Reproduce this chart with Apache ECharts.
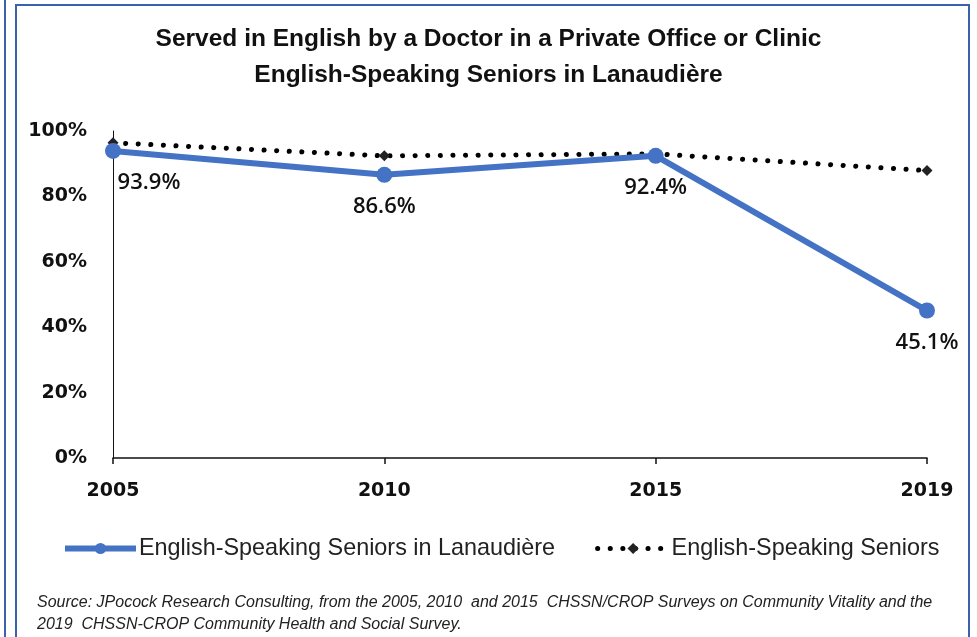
<!DOCTYPE html>
<html>
<head>
<meta charset="utf-8">
<script src="https://cdn.jsdelivr.net/npm/echarts@6/dist/echarts.min.js"></script>
<style>
  html, body { margin: 0; padding: 0; background: #fff; }
  #chart { width: 977px; height: 637px; }
</style>
</head>
<body>
<div id="chart"></div>
<script>
const years = ['2005', '2010', '2015', '2019']
const lanaudiere = [93.9, 86.6, 92.4, 45.1]
const allSeniors = [96.4, 92.4, 93.0, 87.9]
const yTicks = { min: 0, max: 100, interval: 20 }

const sans = '"Liberation Sans", Arial, sans-serif'
const frameColor = '#3b62ad'

const chart = echarts.init(document.getElementById('chart'))

chart.setOption({
  backgroundColor: '#fff',
  animation: false,
  title: {
    text: 'Served in English by a Doctor in a Private Office or Clinic\nEnglish-Speaking Seniors in Lanaudière',
    left: 'center',
    top: 16,
    textStyle: {
      fontFamily: sans,
      fontSize: 24.5,
      fontWeight: 'bold',
      color: '#111',
      lineHeight: 36
    }
  },
  grid: {
    left: 113,
    right: 50,
    top: 131,
    bottom: 179
  },
  legend: {
    data: [
      { name: 'English-Speaking Seniors in Lanaudière', lineStyle: { width: 6 } },
      { name: 'English-Speaking Seniors', lineStyle: { width: 5 } }
    ],
    left: 62,
    top: 537,
    padding: 0,
    itemWidth: 71,
    itemHeight: 14,
    itemGap: 40,
    textStyle: {
      fontFamily: sans,
      fontSize: 23.4,
      color: '#222',
      padding: [0, 0, 0, -2]
    }
  },
  xAxis: {
    type: 'category',
    data: years,
    boundaryGap: false,
    axisLine: { lineStyle: { color: '#111', width: 1.5 } },
    axisTick: { show: true, length: 6, inside: false, lineStyle: { color: '#111', width: 1.5 } },
    axisLabel: {
      fontFamily: 'DejaVu Sans',
      fontSize: 19,
      fontWeight: 'bold',
      color: '#111',
      margin: 24
    }
  },
  yAxis: {
    type: 'value',
    min: yTicks.min,
    max: yTicks.max,
    interval: yTicks.interval,
    axisLine: { show: true, lineStyle: { color: '#111', width: 1 } },
    axisTick: { show: false },
    splitLine: { show: false },
    axisLabel: {
      formatter: '{value}%',
      fontFamily: 'DejaVu Sans',
      fontSize: 19,
      fontWeight: 'bold',
      color: '#111',
      margin: 26
    }
  },
  series: [
    {
      name: 'English-Speaking Seniors in Lanaudière',
      type: 'line',
      z: 3,
      data: lanaudiere.map((v, i) => i === 0
        ? { value: v, label: { offset: [36, 0] } }
        : v),
      symbol: 'circle',
      symbolSize: 16,
      lineStyle: { color: '#4472c4', width: 6 },
      itemStyle: { color: '#4472c4' },
      label: {
        show: true,
        position: 'bottom',
        distance: 13,
        formatter: p => p.value.toFixed(1) + '%',
        fontFamily: '"Open Sans", sans-serif',
        fontWeight: 600,
        fontSize: 22,
        color: '#111'
      }
    },
    {
      name: 'English-Speaking Seniors',
      type: 'line',
      z: 2,
      data: allSeniors,
      symbol: 'diamond',
      symbolSize: 11,
      lineStyle: { color: '#000', width: 5, type: [0.1, 12.5], cap: 'round' },
      itemStyle: { color: '#222' }
    }
  ],
  graphic: [
    { type: 'line', shape: { x1: 5, y1: 0, x2: 5, y2: 637 }, style: { stroke: frameColor, lineWidth: 2 } },
    { type: 'line', shape: { x1: 16, y1: 5, x2: 16, y2: 637 }, style: { stroke: frameColor, lineWidth: 2 } },
    { type: 'line', shape: { x1: 15, y1: 5, x2: 970, y2: 5 }, style: { stroke: frameColor, lineWidth: 2 } },
    { type: 'line', shape: { x1: 969, y1: 4, x2: 969, y2: 637 }, style: { stroke: frameColor, lineWidth: 2 } },
    {
      type: 'text',
      left: 37,
      top: 592,
      style: {
        text: 'Source: JPocock Research Consulting, from the 2005, 2010  and 2015  CHSSN/CROP Surveys on Community Vitality and the\n2019  CHSSN-CROP Community Health and Social Survey.',
        font: 'italic 16px ' + sans,
        fill: '#222',
        lineHeight: 22
      }
    }
  ]
})
</script>
</body>
</html>
